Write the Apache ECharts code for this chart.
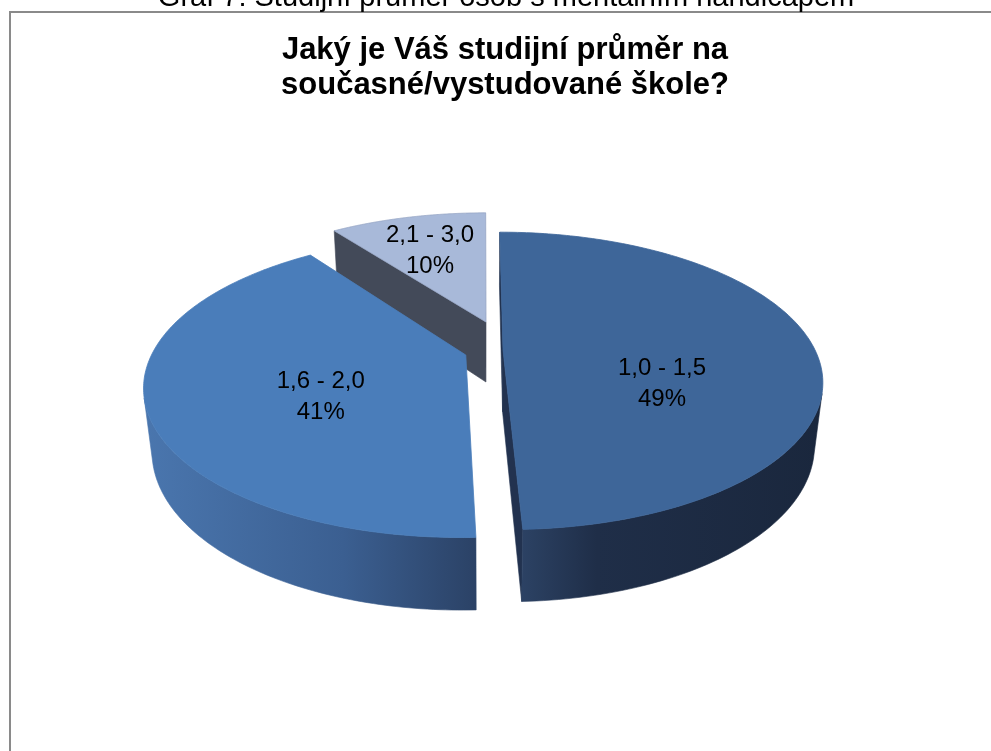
<!DOCTYPE html>
<html>
<head>
<meta charset="utf-8">
<script src="https://cdn.jsdelivr.net/npm/echarts@6/dist/echarts.min.js"></script>
<style>
html,body{margin:0;padding:0;background:#ffffff;}
#chart{width:991px;height:751px;}
</style>
</head>
<body>
<div id="chart"></div>
<script>
// ---- data ----
const chartHeader = 'Graf 7: Studijní průměr osob s mentálním handicapem';
const chartTitle = 'Jaký je Váš studijní průměr na\nsoučasné/vystudované škole?';
const categories = ['1,0 - 1,5', '1,6 - 2,0', '2,1 - 3,0'];
const values = [49.4, 40.6, 10];

// ---- styles / layout ----
const topColors = ['#3e6699', '#4a7dba', '#a8b9d9'];
const topStrokes = ['#3e6699', '#4a7dba', '#95a5c4'];
const cutColors = ['#22324f', '#2a3f60', '#434a59'];
const wallStops = [
  [[0, '#2c4264'], [0.25, '#1f2e48'], [1, '#1a273d']],
  [[0, '#4a76ae'], [0.6, '#3b5f91'], [1, '#2b4266']],
  [[0, '#6f80a0'], [1, '#4a5872']]
];
const explode = [[0.061, 0], [-0.058, -0.035], [0.0067, 0.205]]; // radius units
const labelOffsets = [[159, 34], [-145, 42], [-56, -71]];        // px from slice apex
const view = { cx: 484, cy: 350, F: 312, sinPhi: 0.456, persp: 0.233, depth: 0.228 };
const labelFont = { fontSize: 24, fontFamily: '"Liberation Sans", Arial, sans-serif' };

// ---- geometry helpers ----
const cosPhi = Math.sqrt(1 - view.sinPhi * view.sinPhi);
const cam = [0, view.sinPhi / view.persp, -cosPhi / view.persp];
function project(X, Y, Z) {
  const d = 1 + view.persp * (Z * cosPhi - Y * view.sinPhi);
  return [view.cx + view.F * X / d, view.cy - view.F * (Z * view.sinPhi + Y * cosPhi) / d];
}
const total = values.reduce((a, b) => a + b, 0);
const angles = [];
(function () {
  let acc = 0;
  values.forEach(v => {
    const s = acc / total * 2 * Math.PI;
    acc += v;
    angles.push([s, acc / total * 2 * Math.PI]);
  });
})();

function renderItem(params, api) {
  const i = params.dataIndex;
  const val = api.value(0);
  const [t0, t1] = angles[i];
  const [ex, ez] = explode[i];
  const H = -view.depth;
  const P = (r, th, y) => project(ex + r * Math.sin(th), y, ez + r * Math.cos(th));
  const mid = (t0 + t1) / 2;
  const zBase = Math.round((1 - Math.cos(mid)) * 10) * 10;
  const children = [];
  const apexT = P(0, 0, 0), apexB = P(0, 0, H);

  // radial cut faces
  [[t0, -1], [t1, 1]].forEach(([th, sgn]) => {
    const n = sgn < 0 ? [-Math.cos(th), Math.sin(th)] : [Math.cos(th), -Math.sin(th)];
    const dot = n[0] * (cam[0] - ex) + n[1] * (cam[2] - ez);
    if (dot > 0) {
      children.push({
        type: 'polygon',
        shape: { points: [apexT, P(1, th, 0), P(1, th, H), apexB] },
        style: { fill: cutColors[i], stroke: cutColors[i], lineWidth: 0.6 },
        z2: zBase + 1
      });
    }
  });

  // outer wall (visible part)
  const N = 160;
  const topPts = [], botPts = [];
  for (let k = 0; k <= N; k++) {
    const th = t0 + (t1 - t0) * k / N;
    const px = ex + Math.sin(th), pz = ez + Math.cos(th);
    const vis = Math.sin(th) * (cam[0] - px) + Math.cos(th) * (cam[2] - pz) > 0;
    if (vis) { topPts.push(P(1, th, 0)); botPts.push(P(1, th, H)); }
  }
  if (topPts.length > 1) {
    const pts = topPts.concat(botPts.slice().reverse());
    let minX = Infinity, maxX = -Infinity;
    pts.forEach(p => { minX = Math.min(minX, p[0]); maxX = Math.max(maxX, p[0]); });
    const grad = {
      type: 'linear', x: minX, y: 0, x2: maxX, y2: 0, global: true,
      colorStops: wallStops[i].map(s => ({ offset: s[0], color: s[1] }))
    };
    children.push({
      type: 'polygon', shape: { points: pts },
      style: { fill: grad, stroke: grad, lineWidth: 0.6 },
      z2: zBase + 2
    });
  }

  // top face
  const face = [apexT];
  const M = 180;
  for (let k = 0; k <= M; k++) face.push(P(1, t0 + (t1 - t0) * k / M, 0));
  children.push({
    type: 'polygon', shape: { points: face },
    style: { fill: topColors[i], stroke: topStrokes[i], lineWidth: 0.8 },
    z2: zBase + 3
  });

  // label
  const pct = Math.round(val / total * 100) + '%';
  children.push({
    type: 'text',
    x: apexT[0] + labelOffsets[i][0],
    y: apexT[1] + labelOffsets[i][1],
    style: {
      text: categories[i] + '\n' + pct,
      fill: '#000000',
      fontSize: labelFont.fontSize,
      fontFamily: labelFont.fontFamily,
      lineHeight: 31,
      align: 'center',
      verticalAlign: 'middle',
      textAlign: 'center',
      textVerticalAlign: 'middle'
    },
    z2: 1000
  });
  return { type: 'group', children: children };
}

const chart = echarts.init(document.getElementById('chart'), null, { renderer: 'canvas' });
chart.setOption({
  backgroundColor: '#ffffff',
  animation: false,
  title: {
    text: chartTitle,
    left: 500,
    textAlign: 'center',
    top: 28,
    textStyle: {
      fontSize: 31,
      fontWeight: 'bold',
      fontFamily: '"Liberation Sans", Arial, sans-serif',
      lineHeight: 35,
      color: '#000000'
    }
  },
  graphic: [
    {
      type: 'rect',
      shape: { x: 10, y: 12, width: 1200, height: 1000 },
      style: { fill: 'none', stroke: '#8a8a8a', lineWidth: 2 },
      silent: true
    },
    {
      type: 'text',
      x: 506, y: -2,
      style: {
        text: chartHeader,
        fill: '#000000',
        fontSize: 29,
        fontFamily: '"Liberation Sans", Arial, sans-serif',
        textAlign: 'center',
        textVerticalAlign: 'middle',
        align: 'center',
        verticalAlign: 'middle'
      },
      silent: true
    }
  ],
  series: [{
    type: 'custom',
    coordinateSystem: 'none',
    renderItem: renderItem,
    data: categories.map((c, i) => ({ name: c, value: values[i] }))
  }]
});
</script>
</body>
</html>
